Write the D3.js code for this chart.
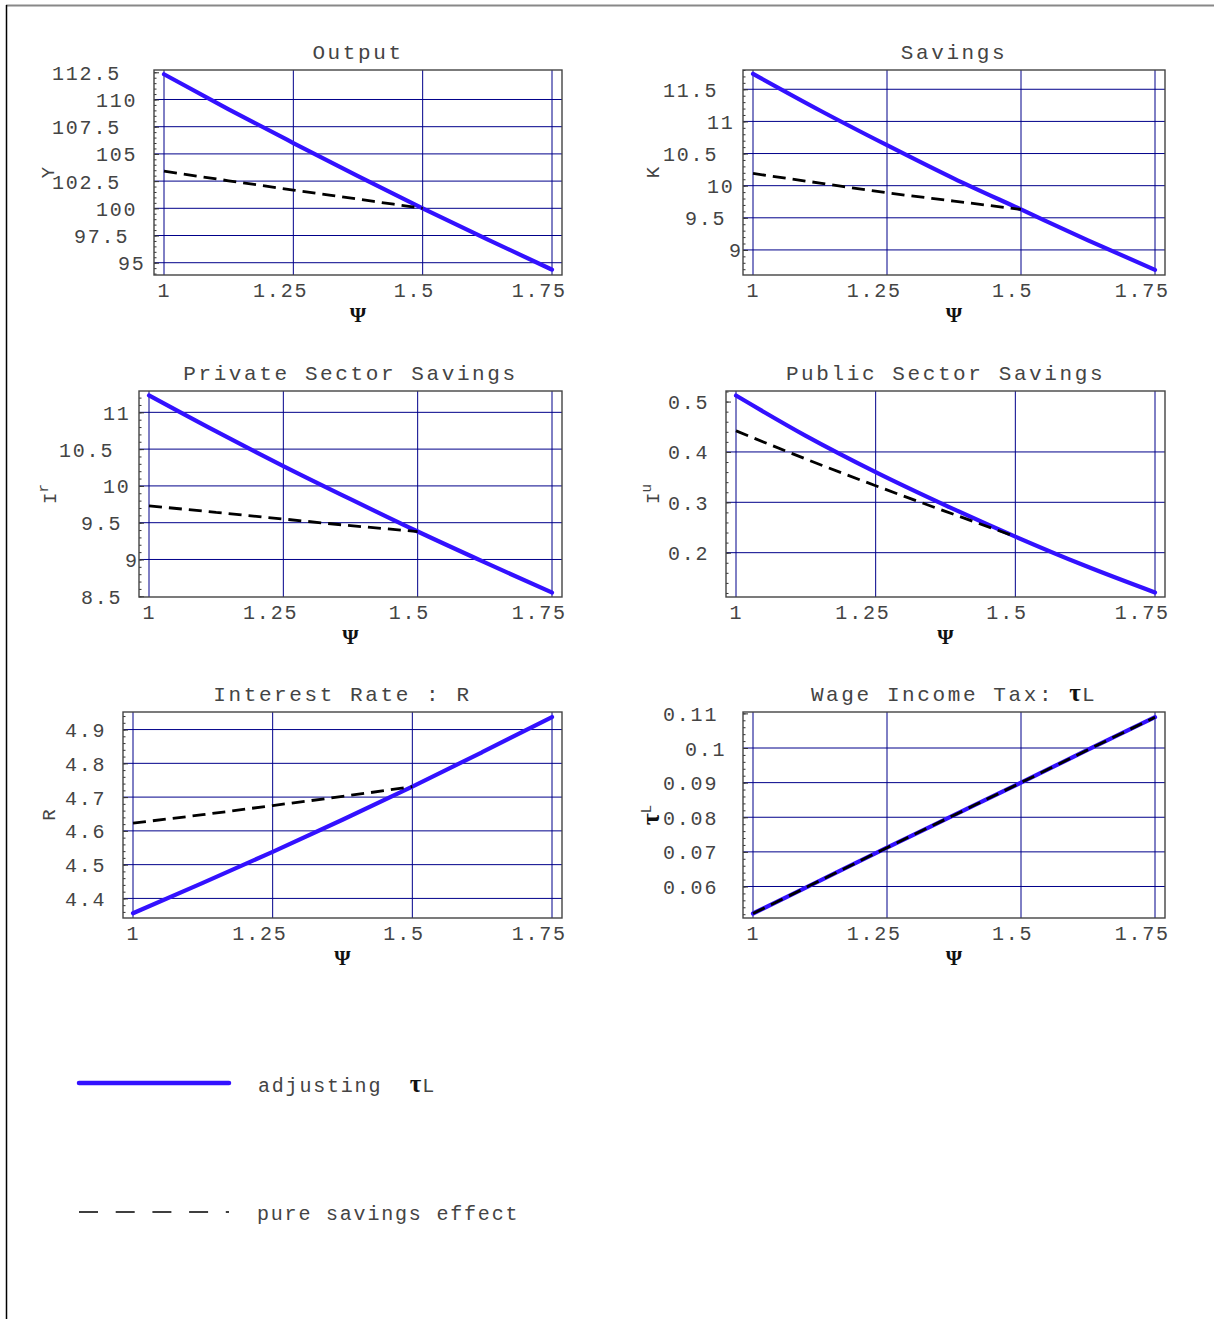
<!DOCTYPE html>
<html>
<head>
<meta charset="utf-8">
<script src="https://cdnjs.cloudflare.com/ajax/libs/d3/7.8.5/d3.min.js"></script>
<style>
body { margin: 0; background: #fff; }
svg text { white-space: pre; }
</style>
</head>
<body>
<div id="chart"></div>
<script>
// Psi grid the curves were read at
var psi = [1, 1.125, 1.25, 1.375, 1.5, 1.625, 1.75]
var psiTicks = [1, 1.25, 1.5, 1.75]

// adjusting tauL (solid blue) / pure savings effect (dashed, stops at 1.5)
var outputTau = [112.32, 109.1, 106.0, 102.95, 100.0, 97.15, 94.36]
var outputPure = [103.41, 102.53, 101.68, 100.84, 100.0]
var savingsTau = [11.74, 11.17, 10.63, 10.11, 9.63, 9.15, 8.69]
var savingsPure = [10.19, 10.04, 9.89, 9.76, 9.63]
var privateTau = [11.23, 10.74, 10.27, 9.82, 9.38, 8.96, 8.55]
var privatePure = [9.73, 9.64, 9.55, 9.46, 9.38]
var publicTau = [0.512, 0.432, 0.360, 0.294, 0.232, 0.174, 0.121]
var publicPure = [0.442, 0.386, 0.333, 0.282, 0.232]
var rateTau = [4.356, 4.446, 4.538, 4.633, 4.731, 4.833, 4.937]
var ratePure = [4.623, 4.648, 4.675, 4.702, 4.731]
var wageTau = [0.0522, 0.0617, 0.0712, 0.0806, 0.0900, 0.0995, 0.1089]
var wagePure = [0.0522, 0.0617, 0.0712, 0.0806, 0.0900, 0.0995, 0.1089]

// y axis ranges, ticks and grid lines
var outputDomain = [93.87, 112.71]
var outputTicks = [95, 97.5, 100, 102.5, 105, 107.5, 110, 112.5]
var outputGrid = [95, 97.5, 100, 102.5, 105, 107.5, 110]
var savingsDomain = [8.61, 11.80]
var savingsTicks = [9, 9.5, 10, 10.5, 11, 11.5]
var savingsGrid = [9, 9.5, 10, 10.5, 11, 11.5]
var privateDomain = [8.49, 11.29]
var privateTicks = [8.5, 9, 9.5, 10, 10.5, 11]
var privateGrid = [9, 9.5, 10, 10.5, 11]
var publicDomain = [0.112, 0.521]
var publicTicks = [0.2, 0.3, 0.4, 0.5]
var publicGrid = [0.2, 0.3, 0.4]
var rateDomain = [4.342, 4.952]
var rateTicks = [4.4, 4.5, 4.6, 4.7, 4.8, 4.9]
var rateGrid = [4.4, 4.5, 4.6, 4.7, 4.8, 4.9]
var wageDomain = [0.0509, 0.1104]
var wageTicks = [0.06, 0.07, 0.08, 0.09, 0.1, 0.11]
var wageGrid = [0.06, 0.07, 0.08, 0.09, 0.1]

var W = 1214, H = 1319
var blue = "#3311ff"
var gridColor = "#00008a"
var mono = "'Courier New', Courier, 'Liberation Mono', monospace"
var serif = "'Liberation Serif', 'DejaVu Serif', serif"

var panels = [
    {title: "Output", ylab: ["Y"], tau: outputTau, pure: outputPure, dom: outputDomain,
     ticks: outputTicks, grid: outputGrid, frame: [154, 70, 562, 275], labX: 47},
    {title: "Savings", ylab: ["K"], tau: savingsTau, pure: savingsPure, dom: savingsDomain,
     ticks: savingsTicks, grid: savingsGrid, frame: [743, 70, 1165, 275], labX: 652},
    {title: "Private Sector Savings", ylab: ["I", "r"], tau: privateTau, pure: privatePure, dom: privateDomain,
     ticks: privateTicks, grid: privateGrid, frame: [139, 391, 562, 597], labX: 49},
    {title: "Public Sector Savings", ylab: ["I", "u"], tau: publicTau, pure: publicPure, dom: publicDomain,
     ticks: publicTicks, grid: publicGrid, frame: [726, 391, 1165, 597], labX: 652},
    {title: "Interest Rate : R", ylab: ["R"], tau: rateTau, pure: ratePure, dom: rateDomain,
     ticks: rateTicks, grid: rateGrid, frame: [123, 712, 562, 918], labX: 48},
    {title: "Wage Income Tax: ", tauTitle: true, ylab: ["\u03c4", "L"], tau: wageTau, pure: wagePure, dom: wageDomain,
     ticks: wageTicks, grid: wageGrid, frame: [743, 712, 1165, 918], labX: 652}
]

var svg = d3.select("#chart").append("svg")
    .attr("width", W)
    .attr("height", H)

svg.append("rect").attr("width", W).attr("height", H).attr("fill", "#fff")

// page border (top + left only)
svg.append("line").attr("x1", 6).attr("x2", W).attr("y1", 5.5).attr("y2", 5.5)
    .attr("stroke", "#888").attr("stroke-width", 2)
svg.append("line").attr("x1", 6.5).attr("x2", 6.5).attr("y1", 5).attr("y2", H)
    .attr("stroke", "#000").attr("stroke-width", 1.5)

function styleText(sel, size, ls) {
    sel.attr("font-family", mono)
        .attr("font-size", size)
        .attr("letter-spacing", ls)
        .attr("fill", "#444")
}

function drawPanel(p) {
    var f = p.frame
    var x = d3.scaleLinear().domain([1, 1.75]).range([f[0] + 10, f[2] - 10])
    var y = d3.scaleLinear().domain(p.dom).range([f[3], f[1]])
    var g = svg.append("g")

    // grid
    g.selectAll(".vg").data(psiTicks).enter().append("line")
        .attr("x1", d => x(d)).attr("x2", d => x(d))
        .attr("y1", f[1]).attr("y2", f[3])
        .attr("stroke", gridColor).attr("stroke-width", 1)
    g.selectAll(".hg").data(p.grid).enter().append("line")
        .attr("x1", f[0]).attr("x2", f[2])
        .attr("y1", d => y(d)).attr("y2", d => y(d))
        .attr("stroke", gridColor).attr("stroke-width", 1)

    // minor + major ticks on the left frame, pointing inward
    var step = (p.ticks[1] - p.ticks[0]) / 5
    var minor = d3.range(Math.ceil(p.dom[0] / step), Math.floor(p.dom[1] / step) + 1)
        .map(i => i * step)
    g.append("g").attr("transform", "translate(" + f[0] + ",0)")
        .call(d3.axisRight(y).tickValues(minor).tickSize(2.5).tickFormat(""))
        .call(a => a.select(".domain").remove())
        .selectAll("line").attr("stroke", "#333")
    g.append("g").attr("transform", "translate(" + f[0] + ",0)")
        .call(d3.axisRight(y).tickValues(p.ticks).tickSize(5).tickFormat(""))
        .call(a => a.select(".domain").remove())
        .selectAll("line").attr("stroke", "#333")

    // y tick labels (Mathematica style odd alignment)
    var ya = g.append("g").attr("transform", "translate(" + f[0] + ",0)")
        .call(d3.axisLeft(y).tickValues(p.ticks).tickSize(0).tickFormat(d => String(d)))
    ya.select(".domain").remove()
    ya.selectAll("text")
        .attr("text-anchor", "start")
        .attr("x", d => 8 - 22 * String(d).length)
        .attr("dy", "0.35em")
        .call(styleText, 20, 1.8)

    // x tick labels
    var xa = g.append("g").attr("transform", "translate(0," + f[3] + ")")
        .call(d3.axisBottom(x).tickValues(psiTicks).tickSize(0).tickFormat(d => String(d)))
    xa.select(".domain").remove()
    xa.selectAll("text")
        .attr("y", 15)
        .attr("dy", "0.35em")
        .attr("dx", d => -4.4 * (String(d).length - 1))
        .call(styleText, 20, 1.8)

    // frame
    g.append("rect")
        .attr("x", f[0]).attr("y", f[1])
        .attr("width", f[2] - f[0]).attr("height", f[3] - f[1])
        .attr("fill", "none").attr("stroke", "#444").attr("stroke-width", 1.4)

    var line = d3.line()
        .x(d => x(d[0]))
        .y(d => y(d[1]))
        .curve(d3.curveMonotoneX)

    g.append("path")
        .datum(psi.map((v, i) => [v, p.tau[i]]))
        .attr("d", line)
        .attr("fill", "none")
        .attr("stroke", blue)
        .attr("stroke-width", 4.2)
        .attr("stroke-linecap", "round")

    g.append("path")
        .datum(p.pure.map((v, i) => [psi[i], v]))
        .attr("d", line)
        .attr("fill", "none")
        .attr("stroke", "#000")
        .attr("stroke-width", 2.8)
        .attr("stroke-dasharray", "13 7")

    // title
    var cx = (f[0] + f[2]) / 2
    var t = g.append("text")
        .attr("x", cx).attr("y", f[1] - 18)
        .attr("dy", "0.35em")
        .attr("text-anchor", "middle")
        .call(styleText, 21, 2.6)
    t.append("tspan").text(p.title)
    if (p.tauTitle) {
        t.append("tspan").attr("font-family", serif).attr("font-weight", "bold")
            .attr("font-size", 25).attr("fill", "#111").attr("letter-spacing", 1).text("\u03c4")
        t.append("tspan").text("L")
    }

    // x axis label
    g.append("text")
        .attr("x", cx).attr("y", f[3] + 40)
        .attr("dy", "0.35em")
        .attr("text-anchor", "middle")
        .attr("font-family", serif)
        .attr("font-weight", "bold")
        .attr("font-size", 21)
        .attr("fill", "#111")
        .text("\u03a8")

    // y axis label, rotated
    var cy = (f[1] + f[3]) / 2
    var yl = g.append("text")
        .attr("transform", "translate(" + p.labX + "," + cy + ") rotate(-90)")
        .attr("dy", "0.35em")
        .attr("text-anchor", "middle")
        .call(styleText, 19, 0)
    if (p.ylab[0] == "\u03c4") {
        yl.append("tspan").attr("font-family", serif).attr("font-weight", "bold")
            .attr("font-size", 26).attr("fill", "#111").text(p.ylab[0])
    } else {
        yl.append("tspan").text(p.ylab[0])
    }
    if (p.ylab.length > 1) {
        yl.append("tspan").attr("dy", -8).attr("font-size", 14).text(p.ylab[1])
    }
}

panels.forEach(drawPanel)

// legend
var leg = svg.append("g")
var legX = d3.scaleLinear().domain([0, 1]).range([79, 229])
leg.append("line")
    .attr("x1", legX(0)).attr("x2", legX(1))
    .attr("y1", 1083).attr("y2", 1083)
    .attr("stroke", blue).attr("stroke-width", 4.5).attr("stroke-linecap", "round")
var lt = leg.append("text").attr("x", 258).attr("y", 1085).attr("dy", "0.35em")
    .call(styleText, 20, 1.8)
lt.append("tspan").text("adjusting  ")
lt.append("tspan").attr("font-family", serif).attr("font-weight", "bold")
    .attr("font-size", 25).attr("fill", "#111").attr("letter-spacing", 1).text("\u03c4")
lt.append("tspan").text("L")

leg.append("line")
    .attr("x1", legX(0)).attr("x2", legX(1))
    .attr("y1", 1212).attr("y2", 1212)
    .attr("stroke", "#000").attr("stroke-width", 1.3).attr("stroke-dasharray", "19 17.7")
leg.append("text").attr("x", 257).attr("y", 1213).attr("dy", "0.35em")
    .call(styleText, 20, 1.8)
    .text("pure savings effect")
</script>
</body>
</html>
